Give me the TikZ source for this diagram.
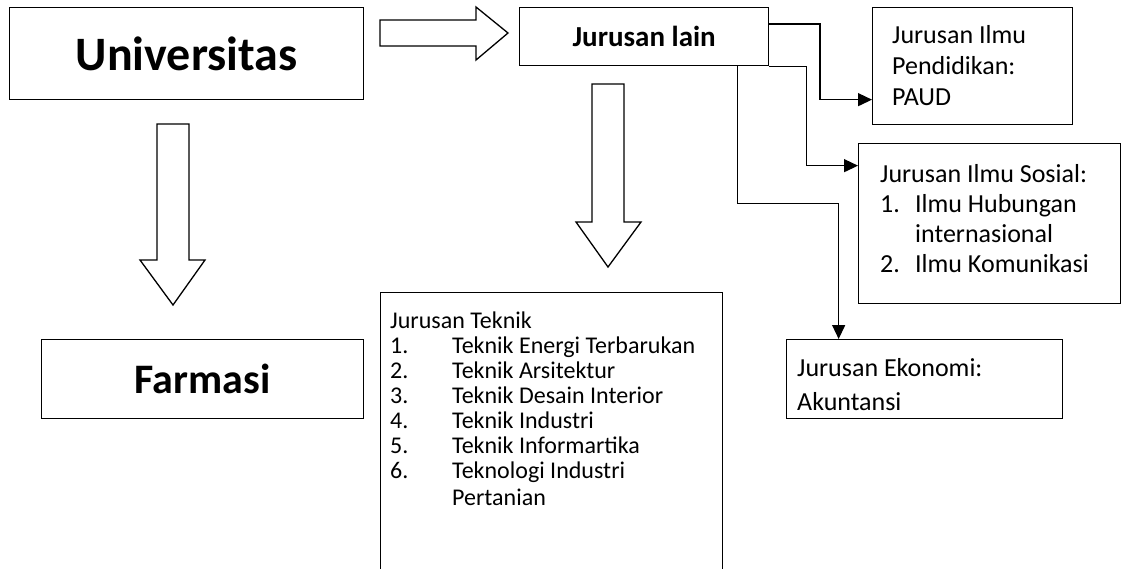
\documentclass[tikz,border=0pt]{standalone}
\usepackage{fontspec}
\setmainfont{Carlito}
\usetikzlibrary{arrows.meta}
\begin{document}
\begin{tikzpicture}[x=1pt,y=-1pt,
  box/.style={draw, line width=1.3pt, inner sep=0pt, anchor=north west},
  txt/.style={inner sep=0pt, anchor=west, align=left},
  blockarrow/.style={draw, line width=1.3pt, fill=white, line join=miter},
  conn/.style={line width=1.3pt, -{Triangle[length=14pt,width=13pt]}}]
\useasboundingbox (0,0) rectangle (1123,568);
% boxes
\node[box, minimum width=354pt, minimum height=92pt] (univ) at (9,7) {};
\node[font=\fontsize{48}{56}\selectfont\bfseries] (univt) at (univ.center) {Universitas};
\node[box, minimum width=249pt, minimum height=58pt] (jl) at (519,7) {};
\node[font=\fontsize{29}{34}\selectfont\bfseries] (jlt) at (jl.center) {Jurusan lain};
\node[box, minimum width=322pt, minimum height=79pt] (farm) at (41,339) {};
\node[font=\fontsize{42}{48}\selectfont\bfseries] (farmt) at (farm.center) {Farmasi};
\node[box, minimum width=200pt, minimum height=117pt] (paud) at (872,7) {};
\node[txt, font=\fontsize{26}{31}\selectfont] (paudt) at (892,66) {Jurusan Ilmu\\Pendidikan:\\PAUD};
\node[box, minimum width=262pt, minimum height=160pt] (sos) at (858,143) {};
\node[txt, font=\fontsize{26}{30}\selectfont] (sost) at (880,221) {%
\begin{tabular}{@{}l@{}l@{}}
\multicolumn{2}{@{}l@{}}{Jurusan Ilmu Sosial:}\\
\makebox[35pt][l]{1.}&Ilmu Hubungan\\
&internasional\\
2.&Ilmu Komunikasi
\end{tabular}};
\node[box, minimum width=276pt, minimum height=79pt] (eko) at (786,339) {};
\node[txt, font=\fontsize{26}{34}\selectfont] (ekot) at (797,385) {Jurusan Ekonomi:\\Akuntansi};
\node[box, minimum width=342pt, minimum height=290pt] (tek) at (380,292) {};
\node[txt, font=\fontsize{24}{25}\selectfont] (tekt) at (390,412) {%
\begin{tabular}{@{}l@{}l@{}}
\multicolumn{2}{@{}l@{}}{Jurusan Teknik}\\
\makebox[62pt][l]{1.}&Teknik Energi Terbarukan\\
2.&Teknik Arsitektur\\
3.&Teknik Desain Interior\\
4.&Teknik Industri\\
5.&Teknik Informartika\\
6.&Teknologi Industri\\[2pt]
&Pertanian
\end{tabular}};
% block arrows
\draw[blockarrow] (380,20) -- (476,20) -- (476,7) -- (508,33) -- (476,60) -- (476,46) -- (380,46) -- cycle;
\draw[blockarrow] (157,124) -- (189,124) -- (189,260) -- (205,260) -- (173,305) -- (140,260) -- (157,260) -- cycle;
\draw[blockarrow] (592,84) -- (624,84) -- (624,222) -- (641,222) -- (608,267) -- (576,222) -- (592,222) -- cycle;
% connectors
\draw[conn] ([yshift=-17pt]jl.north east) -| ([xshift=-52pt,yshift=-33.5pt]paud.west) -- ([yshift=-33.5pt]paud.west);
\draw[conn] (jl.south east) -- ++(37,0) |- ([yshift=58pt]sos.west);
\draw[conn] ([xshift=-32pt]jl.south east) -- ++(0,137) -| ([xshift=-86pt]eko.north);
\end{tikzpicture}
\end{document}
